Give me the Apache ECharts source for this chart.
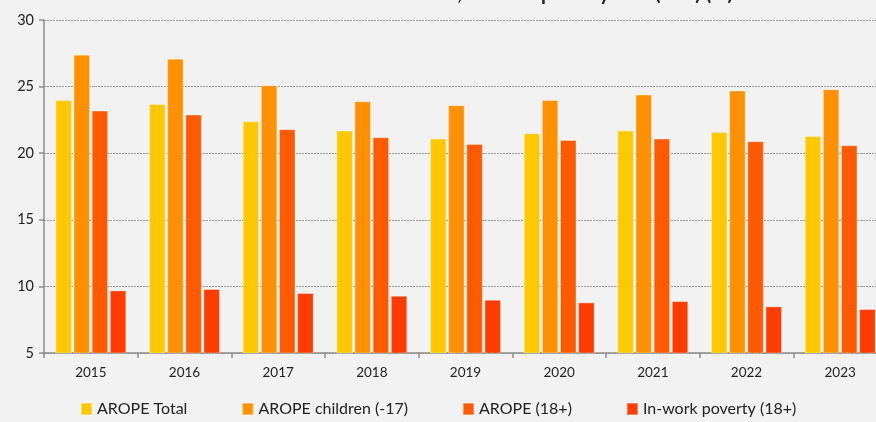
<!DOCTYPE html>
<html>
<head>
<meta charset="utf-8">
<script src="https://cdn.jsdelivr.net/npm/echarts@6/dist/echarts.min.js"></script>
<style>
html,body{margin:0;padding:0;background:#F2F2F2;}
#c{width:876px;height:422px;}
</style>
</head>
<body>
<div id="c"></div>
<script>
var years = ['2015','2016','2017','2018','2019','2020','2021','2022','2023'];
var seriesNames = ['AROPE Total','AROPE children (-17)','AROPE (18+)','In-work poverty (18+)'];
var aropeTotal = [24.0, 23.7, 22.4, 21.7, 21.1, 21.5, 21.7, 21.6, 21.3];
var aropeChildren = [27.4, 27.1, 25.1, 23.9, 23.6, 24.0, 24.4, 24.7, 24.8];
var aropeAdults = [23.2, 22.9, 21.8, 21.2, 20.7, 21.0, 21.1, 20.9, 20.6];
var inWorkPoverty = [9.7, 9.8, 9.5, 9.3, 9.0, 8.8, 8.9, 8.5, 8.3];
var yTicks = [5, 10, 15, 20, 25, 30];
var titleText = 'AROPE rate for children and adults, in-work poverty rate (18+) (%)';

var colors = ['#FFC800', '#FF9100', '#FF5A00', '#FF3C00'];
var allData = [aropeTotal, aropeChildren, aropeAdults, inWorkPoverty];
var FONT = 'Lato, "Open Sans", sans-serif';

var chart = echarts.init(document.getElementById('c'), null, {renderer: 'canvas'});
chart.setOption({
  backgroundColor: '#F2F2F2',
  animation: false,
  color: colors,
  graphic: [{
    type: 'text', x: 733, y: -16,
    style: {text: titleText, align: 'right', verticalAlign: 'top',
            font: 'bold 20px ' + FONT, fill: '#222', lineHeight: 20}
  }],
  grid: {left: 44, width: 843, top: 20, bottom: 69, containLabel: false, outerBoundsMode: 'none'},
  legend: {
    bottom: 5, left: 80, padding: 0, icon: 'rect', itemWidth: 11, itemHeight: 12, itemGap: 54,
    textStyle: {fontFamily: FONT, fontSize: 16, color: '#222'},
    data: seriesNames
  },
  xAxis: {
    type: 'category', data: years,
    axisLine: {lineStyle: {color: '#8C8C8C', width: 1.5}},
    axisTick: {show: true, length: 5, lineStyle: {color: '#8C8C8C', width: 1.5}},
    axisLabel: {fontFamily: FONT, fontSize: 13.5, color: '#222', margin: 13},
    splitLine: {show: false}
  },
  yAxis: {
    type: 'value', min: yTicks[0], max: yTicks[yTicks.length - 1], interval: 5,
    axisLine: {show: true, lineStyle: {color: '#8C8C8C', width: 1.5}},
    axisTick: {show: true, length: 5, lineStyle: {color: '#8C8C8C', width: 1.5}},
    axisLabel: {fontFamily: FONT, fontSize: 14.5, color: '#222', margin: 10},
    splitLine: {show: true, lineStyle: {color: '#9A9A9A', type: [2, 1], width: 1}}
  },
  series: seriesNames.map(function (n, i) {
    return {
      name: n, type: 'bar', data: allData[i], barWidth: 16.5, barGap: '10%',
      itemStyle: {color: colors[i], borderColor: 'rgba(255,255,255,0.35)', borderWidth: 1}
    };
  })
});
</script>
</body>
</html>
